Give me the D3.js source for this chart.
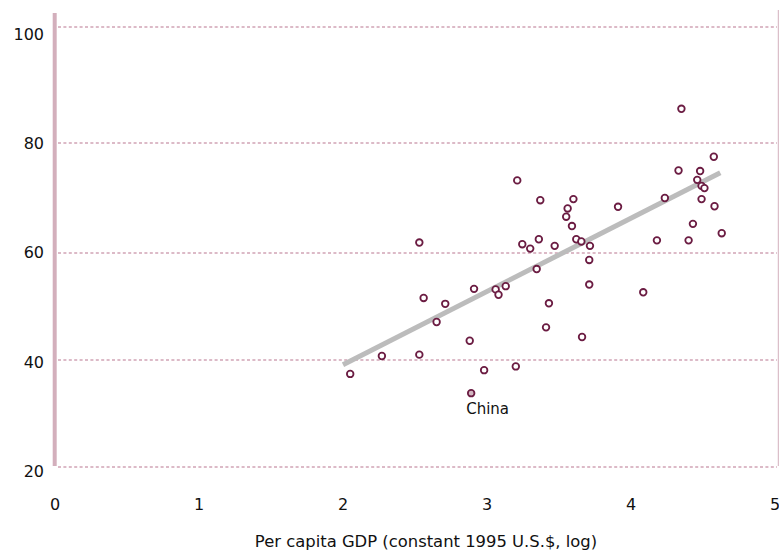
<!DOCTYPE html>
<html>
<head>
<meta charset="utf-8">
<script src="https://cdn.jsdelivr.net/npm/d3@7"></script>
<style>
body { margin: 0; background: #fff; }
text { font-family: "DejaVu Sans", sans-serif; fill: #111; }
</style>
</head>
<body>
<div id="main"></div>
<script>
// values
let gdp = [2.05, 2.27, 2.53, 2.53, 2.56, 2.65, 2.71, 2.88, 2.91, 2.98,
	3.06, 3.08, 3.13, 3.20, 3.21, 3.245, 3.30, 3.36, 3.37, 3.345,
	3.43, 3.41, 3.47, 3.55, 3.56, 3.59, 3.60, 3.62, 3.655, 3.66,
	3.715, 3.71, 3.71, 3.91, 4.085, 4.18, 4.235, 4.33, 4.35, 4.40,
	4.43, 4.46, 4.48, 4.49, 4.49, 4.51, 4.58, 4.575, 4.63];
let life = [37.4, 40.75, 61.9, 41.0, 51.6, 47.1, 50.5, 43.6, 53.3, 38.1,
	53.2, 52.2, 53.8, 38.8, 73.2, 61.6, 60.8, 62.5, 69.6, 57.0,
	50.6, 46.1, 61.3, 66.6, 68.1, 64.9, 69.8, 62.5, 62.1, 44.3,
	61.3, 58.7, 54.1, 68.4, 52.65, 62.3, 70.0, 75.0, 85.9, 62.3,
	65.3, 73.3, 74.9, 69.8, 72.2, 71.8, 68.5, 77.5, 63.6];
let china = {name: "China", gdp: 2.89, life: 33.8};
let trendX = [2.0, 4.62];
let trendY = [39.1, 74.6];
let xTicks = [0, 1, 2, 3, 4, 5];
let yTicks = [20, 40, 60, 80, 100];
let xTitle = "Per capita GDP (constant 1995 U.S.$, log)";

let width = 779, height = 552;
let svg = d3.select("#main").append("svg")
	.attr("width", width).attr("height", height);

let x = d3.scaleLinear().domain([0, 5]).range([55, 775]);
// the gridlines in the picture are not quite evenly spaced
let y = d3.scaleLinear().domain([20, 40, 60, 80, 100]).range([467, 360, 253, 143, 27]);
let yLabel = d3.scaleLinear().domain([20, 100]).range([471, 34]);

// gridlines
svg.append("g").selectAll("line")
	.data(yTicks).enter()
	.append("line")
	.attr("x1", 58).attr("x2", 777)
	.attr("y1", function (d) { return y(d); })
	.attr("y2", function (d) { return y(d); })
	.attr("stroke", "#dcbac7")
	.attr("stroke-width", 2)
	.attr("stroke-dasharray", "3,2.4");

// left axis bar and right border
svg.append("line")
	.attr("x1", 54.7).attr("x2", 54.7)
	.attr("y1", 13).attr("y2", 466)
	.attr("stroke", "#d3afbc").attr("stroke-width", 4);
svg.append("line")
	.attr("x1", 778.3).attr("x2", 778.3)
	.attr("y1", 10).attr("y2", 466)
	.attr("stroke", "#d3afbc").attr("stroke-width", 1);

// tick labels
svg.append("g").selectAll("text")
	.data(yTicks).enter()
	.append("text")
	.attr("x", 44)
	.attr("y", function (d) { return yLabel(d); })
	.attr("dy", "0.36em")
	.attr("text-anchor", "end")
	.style("font-size", "16px")
	.text(function (d) { return d; });

svg.append("g").selectAll("text")
	.data(xTicks).enter()
	.append("text")
	.attr("x", function (d) { return x(d); })
	.attr("y", 510)
	.attr("text-anchor", "middle")
	.style("font-size", "16px")
	.text(function (d) { return d; });

svg.append("text")
	.attr("x", 426).attr("y", 547)
	.attr("text-anchor", "middle")
	.style("font-size", "16.4px")
	.text(xTitle);

// trend line
svg.append("line")
	.attr("x1", x(trendX[0])).attr("y1", y(trendY[0]))
	.attr("x2", x(trendX[1])).attr("y2", y(trendY[1]))
	.attr("stroke", "#bcbcbc").attr("stroke-width", 5);

// points
svg.append("g").selectAll("circle")
	.data(d3.range(gdp.length)).enter()
	.append("circle")
	.attr("cx", function (i) { return x(gdp[i]); })
	.attr("cy", function (i) { return y(life[i]); })
	.attr("r", 3.3)
	.attr("fill", "#fff")
	.attr("stroke", "#6b1c42")
	.attr("stroke-width", 1.8);

svg.append("circle")
	.attr("cx", x(china.gdp)).attr("cy", y(china.life))
	.attr("r", 3.3)
	.attr("fill", "#d2b6c1")
	.attr("stroke", "#6b1c42")
	.attr("stroke-width", 1.8);

svg.append("text")
	.attr("x", x(china.gdp) - 5).attr("y", 414)
	.style("font-size", "15px")
	.text(china.name);
</script>
</body>
</html>
